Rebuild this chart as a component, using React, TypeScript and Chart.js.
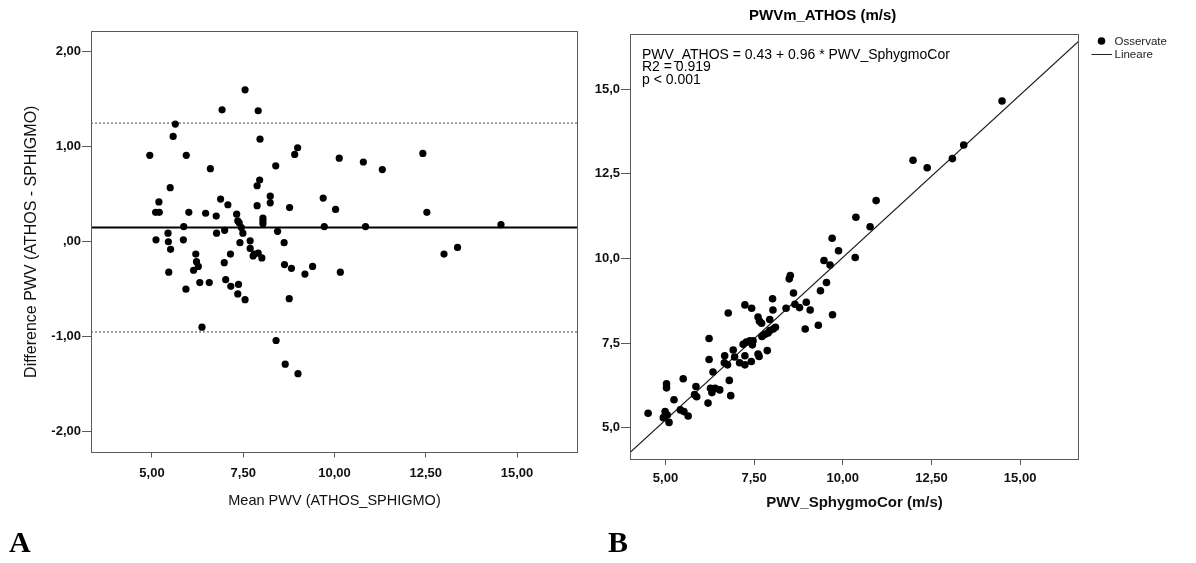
import React, { useEffect, useRef } from "react";
import { Chart, registerables } from "chart.js";

Chart.register(...registerables);

const FONT = "'Liberation Sans', Arial, sans-serif";

// ---------------- Panel A (Bland-Altman) ----------------
const meanPwvA = [
  4.94, 5.11, 5.1, 5.2, 5.19, 5.44, 5.45, 5.51, 5.46, 5.5,
  5.58, 5.64, 5.87, 5.86, 5.94, 6.01, 5.93, 6.2, 6.22, 6.27,
  6.14, 6.31, 6.37, 6.47, 6.57, 6.6, 6.76, 6.77, 6.88, 6.92,
  6.98, 6.99, 7.02, 7.08, 7.16, 7.15, 7.32, 7.35, 7.39, 7.37,
  7.35, 7.41, 7.45, 7.49, 7.55, 7.55, 7.69, 7.69, 7.77, 7.8,
  7.88, 7.88, 7.91, 7.95, 7.96, 7.91, 8.01, 8.04, 8.04, 8.04,
  8.24, 8.24, 8.39, 8.4, 8.44, 8.62, 8.63, 8.65, 8.77, 8.76,
  8.82, 8.91, 8.99, 9.0, 9.19, 9.4, 9.69, 9.72, 10.03, 10.13,
  10.16, 10.79, 10.85, 11.31, 12.42, 12.53, 13.0, 13.37, 14.56,
];
const diffPwvA = [
  0.91, 0.02, 0.31, 0.31, 0.42, 0.09, 0.0, -0.08, -0.32, 0.57,
  1.11, 1.24, 0.16, 0.02, 0.91, 0.31, -0.5, -0.13, -0.21, -0.26,
  -0.3, -0.43, -0.9, 0.3, -0.43, 0.77, 0.27, 0.09, 0.45, 1.39,
  -0.22, 0.12, -0.4, 0.39, -0.47, -0.13, 0.29, 0.22, 0.2, -0.45,
  -0.55, -0.01, 0.15, 0.09, 1.6, -0.61, 0.01, -0.07, -0.15, -0.13,
  0.38, 0.59, 1.38, 0.65, 1.08, -0.12, -0.17, 0.25, 0.22, 0.19,
  0.48, 0.41, 0.8, -1.04, 0.11, -0.01, -0.24, -1.29, 0.36, -0.6,
  -0.28, 0.92, 0.99, -1.39, -0.34, -0.26, 0.46, 0.16, 0.34, 0.88,
  -0.32, 0.84, 0.16, 0.76, 0.93, 0.31, -0.13, -0.06, 0.18,
];
const meanDiffA = 0.15;
const upperLimitA = 1.25;
const lowerLimitA = -0.95;
const xRangeA = [3.33, 16.67];
const yRangeA = [-2.22, 2.22];
const xTickValues = [5, 7.5, 10, 12.5, 15];
const xTickLabels = ["5,00", "7,50", "10,00", "12,50", "15,00"];
const yTickValuesA = [-2, -1, 0, 1, 2];
const yTickLabelsA = ["-2,00", "-1,00", ",00", "1,00", "2,00"];
const xTitleA = "Mean PWV (ATHOS_SPHIGMO)";
const yTitleA = "Difference PWV (ATHOS - SPHIGMO)";

// ---------------- Panel B (regression) ----------------
const sphygmoB = [
  4.51, 4.99, 5.05, 4.94, 5.1, 5.03, 5.03, 5.5, 5.24, 5.42,
  5.52, 5.64, 5.82, 5.86, 5.88, 6.23, 6.23, 6.2, 6.27, 6.31,
  6.4, 6.53, 6.34, 6.77, 6.67, 6.66, 6.75, 6.8, 6.84, 6.91,
  6.95, 7.09, 7.24, 7.24, 7.43, 7.19, 7.28, 7.38, 7.47, 7.45,
  7.24, 7.42, 7.61, 7.64, 7.61, 7.65, 7.71, 7.72, 7.81, 7.89,
  7.94, 8.04, 8.1, 7.87, 7.94, 8.02, 8.03, 8.4, 8.49, 8.52,
  8.61, 8.65, 8.78, 8.94, 8.97, 9.08, 9.31, 9.37, 9.54, 9.71,
  9.47, 9.64, 9.7, 9.88, 10.35, 10.37, 10.77, 10.94, 11.98, 12.38,
  13.09, 13.41, 14.49,
];
const athosB = [
  5.43, 5.48, 5.38, 5.3, 5.16, 6.3, 6.18, 6.45, 5.83, 5.53,
  5.48, 5.35, 5.98, 6.22, 5.92, 7.64, 7.02, 5.73, 6.17, 6.04,
  6.17, 6.12, 6.65, 8.39, 7.13, 6.92, 6.86, 6.4, 5.95, 7.3,
  7.09, 6.92, 6.86, 8.63, 8.53, 7.47, 7.53, 7.57, 7.57, 7.45,
  7.13, 6.96, 7.18, 7.11, 8.27, 8.15, 8.09, 7.7, 7.76, 7.8,
  7.87, 7.92, 7.97, 7.28, 8.2, 8.81, 8.48, 8.53, 9.4, 9.5,
  8.98, 8.65, 8.55, 7.92, 8.71, 8.48, 8.03, 9.05, 9.29, 8.34,
  9.94, 9.81, 10.6, 10.23, 10.03, 11.22, 10.94, 11.71, 12.9, 12.68,
  12.95, 13.35, 14.65,
];
const interceptB = 0.43;
const slopeB = 0.96;
const xRangeB = [4.0, 16.66];
const yRangeB = [4.05, 16.63];
const yTickValuesB = [5, 7.5, 10, 12.5, 15];
const yTickLabelsB = ["5,0", "7,5", "10,0", "12,5", "15,0"];
const titleB = "PWVm_ATHOS (m/s)";
const xTitleB = "PWV_SphygmoCor (m/s)";
const annotationB = [
  "PWV_ATHOS = 0.43 + 0.96 * PWV_SphygmoCor",
  "R2 = 0.919",
  "p < 0.001",
];
const legendLabelsB = ["Osservate", "Lineare"];

const FRAME = "#5a5a5a";
const B_LEFT = 560; // page x of panel B canvas

const framePlugin = {
  id: "frameBox",
  afterDatasetsDraw(chart: any) {
    const { ctx, chartArea: a } = chart;
    ctx.save();
    ctx.strokeStyle = FRAME;
    ctx.lineWidth = 1;
    const l = Math.round(a.left) + 0.5;
    const t = Math.round(a.top) + 0.5;
    const r = Math.round(a.right) - 0.5;
    const b = Math.round(a.bottom) - 0.5;
    ctx.strokeRect(l, t, r - l, b - t);
    ctx.restore();
  },
};

const panelBText = {
  id: "panelBText",
  afterDraw(chart: any) {
    const { ctx, chartArea: a } = chart;
    ctx.save();
    ctx.fillStyle = "#000";
    ctx.font = `bold 15px ${FONT}`;
    ctx.textAlign = "center";
    ctx.textBaseline = "middle";
    ctx.fillText(titleB, 822.6 - B_LEFT, 15.5);

    ctx.font = `14px ${FONT}`;
    ctx.textAlign = "left";
    ctx.textBaseline = "alphabetic";
    annotationB.forEach((t, i) => {
      ctx.fillText(t, a.left + 12, a.top + 24.5 + i * 12.6);
    });

    // legend
    const lx = a.right;
    ctx.beginPath();
    ctx.arc(lx + 22.5, 41, 3.8, 0, Math.PI * 2);
    ctx.fill();
    ctx.strokeStyle = "#222";
    ctx.lineWidth = 1;
    ctx.beginPath();
    ctx.moveTo(lx + 12.5, 54.5);
    ctx.lineTo(lx + 33, 54.5);
    ctx.stroke();
    ctx.font = `11.5px ${FONT}`;
    ctx.textBaseline = "middle";
    ctx.fillStyle = "#222";
    ctx.fillText(chart.data.datasets[0].label, lx + 35.5, 41.5);
    ctx.fillText(chart.data.datasets[1].label, lx + 35.5, 55);
    ctx.restore();
  },
};

function axisX(min: number, max: number, title: string, titleFont: any, height: number, padding: number) {
  return {
    type: "linear",
    min,
    max,
    afterBuildTicks: (s: any) => {
      s.ticks = xTickValues.map((v) => ({ value: v }));
    },
    afterFit: (s: any) => {
      s.height = height;
    },
    ticks: {
      callback: (v: any) => xTickLabels[xTickValues.indexOf(Number(v))],
      font: { family: FONT, size: 13, weight: "bold" },
      color: "#111",
      padding,
      maxRotation: 0,
      autoSkip: false,
    },
    grid: { display: true, drawOnChartArea: false, drawTicks: true, tickLength: 5, color: FRAME, lineWidth: 1 },
    border: { display: false },
    title: { display: true, text: title, font: titleFont, color: "#111", padding: { top: 0, bottom: 0 } },
  };
}

function axisY(min: number, max: number, values: number[], labels: string[], width: number, title?: string) {
  return {
    type: "linear",
    min,
    max,
    afterBuildTicks: (s: any) => {
      s.ticks = values.map((v) => ({ value: v }));
    },
    afterFit: (s: any) => {
      s.width = width;
    },
    ticks: {
      callback: (v: any) => labels[values.indexOf(Number(v))],
      font: { family: FONT, size: 13, weight: "bold" },
      color: "#111",
      padding: 1,
      autoSkip: false,
    },
    grid: { display: true, drawOnChartArea: false, drawTicks: true, tickLength: 9, color: FRAME, lineWidth: 1 },
    border: { display: false },
    title: title
      ? { display: true, text: title, font: { family: FONT, size: 16 }, color: "#111", padding: { top: 22.4, bottom: 0 } }
      : { display: false },
  };
}

function PanelA() {
  const ref = useRef<HTMLCanvasElement>(null);
  useEffect(() => {
    if (!ref.current) return;
    const points = meanPwvA.map((x, i) => ({ x, y: diffPwvA[i] }));
    const hline = (y: number) => [
      { x: xRangeA[0], y },
      { x: xRangeA[1], y },
    ];
    const chart = new Chart(ref.current, {
      type: "scatter",
      data: {
        datasets: [
          { label: "Differenze", data: points, pointRadius: 3.6, pointBorderWidth: 0, backgroundColor: "#000", pointBackgroundColor: "#000" },
          { type: "line", label: "Media", data: hline(meanDiffA), borderColor: "#000", borderWidth: 2, pointRadius: 0, showLine: true },
          { type: "line", label: "+1.96 SD", data: hline(upperLimitA), borderColor: "#444", borderWidth: 1, borderDash: [2, 2], pointRadius: 0, showLine: true },
          { type: "line", label: "-1.96 SD", data: hline(lowerLimitA), borderColor: "#444", borderWidth: 1, borderDash: [2, 2], pointRadius: 0, showLine: true },
        ],
      } as any,
      options: {
        responsive: false,
        animation: false,
        devicePixelRatio: 1,
        layout: { padding: { left: 0, top: 31, right: 20, bottom: 563 - 452.5 - 56.9 } },
        plugins: { legend: { display: false }, tooltip: { enabled: false } },
        scales: {
          x: axisX(xRangeA[0], xRangeA[1], xTitleA, { family: FONT, size: 14.5 }, 56.9, 8),
          y: axisY(yRangeA[0], yRangeA[1], yTickValuesA, yTickLabelsA, 91, yTitleA),
        } as any,
      },
      plugins: [framePlugin],
    });
    return () => chart.destroy();
  }, []);
  return <canvas ref={ref} width={598} height={563} style={{ position: "absolute", left: 0, top: 0, width: 598, height: 563 }} />;
}

function PanelB() {
  const ref = useRef<HTMLCanvasElement>(null);
  useEffect(() => {
    if (!ref.current) return;
    const points = sphygmoB.map((x, i) => ({ x, y: athosB[i] }));
    const fit = xRangeB.map((x) => ({ x, y: interceptB + slopeB * x }));
    const chart = new Chart(ref.current, {
      type: "scatter",
      data: {
        datasets: [
          { label: legendLabelsB[0], data: points, pointRadius: 3.8, pointBorderWidth: 0, backgroundColor: "#000", pointBackgroundColor: "#000" },
          { type: "line", label: legendLabelsB[1], data: fit, borderColor: "#1a1a1a", borderWidth: 1.1, pointRadius: 0, showLine: true },
        ],
      } as any,
      options: {
        responsive: false,
        animation: false,
        devicePixelRatio: 1,
        layout: { padding: { left: 0, top: 34, right: 1196 - 1079, bottom: 563 - 460 - 51.4 } },
        plugins: { legend: { display: false }, tooltip: { enabled: false } },
        scales: {
          x: axisX(xRangeB[0], xRangeB[1], xTitleB, { family: FONT, size: 15, weight: "bold" }, 51.4, 6),
          y: axisY(yRangeB[0], yRangeB[1], yTickValuesB, yTickLabelsB, 630 - B_LEFT),
        } as any,
      },
      plugins: [framePlugin, panelBText],
    });
    return () => chart.destroy();
  }, []);
  return (
    <canvas
      ref={ref}
      width={1196 - B_LEFT}
      height={563}
      style={{ position: "absolute", left: B_LEFT, top: 0, width: 1196 - B_LEFT, height: 563 }}
    />
  );
}

const letterStyle: React.CSSProperties = {
  position: "absolute",
  fontFamily: "'Liberation Serif', 'Times New Roman', serif",
  fontWeight: "bold",
  fontSize: 30,
  lineHeight: "30px",
  color: "#000",
};

export default function App() {
  return (
    <div style={{ position: "absolute", left: 0, top: 0, width: 1196, height: 563, background: "#fff", overflow: "hidden" }}>
      <PanelA />
      <PanelB />
      <div style={{ ...letterStyle, left: 9, top: 527 }}>A</div>
      <div style={{ ...letterStyle, left: 608, top: 527 }}>B</div>
    </div>
  );
}
